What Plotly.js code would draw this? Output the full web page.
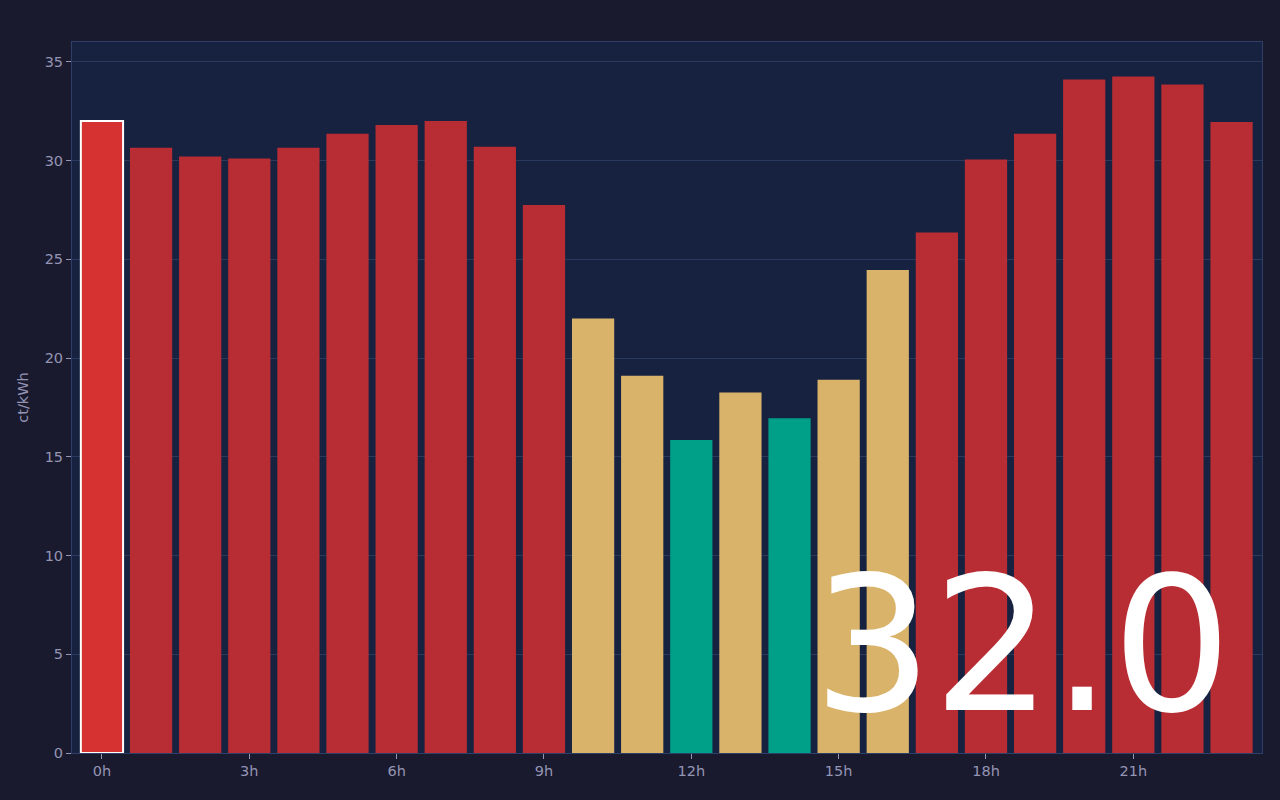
<!DOCTYPE html>
<html>
<head>
<meta charset="utf-8">
<script src="https://cdn.plot.ly/plotly-3.0.1.min.js"></script>
<style>
  html, body { margin: 0; padding: 0; background: #1a1a2e; }
  #chart { width: 1280px; height: 800px; }
</style>
</head>
<body>
<div id="chart"></div>
<script>
// hourly prices, ct/kWh
var hours = [0,1,2,3,4,5,6,7,8,9,10,11,12,13,14,15,16,17,18,19,20,21,22,23];
var prices = [32.0, 30.65, 30.2, 30.1, 30.65, 31.35, 31.8, 32.0, 30.7, 27.75, 22.0, 19.1,
              15.85, 18.25, 16.95, 18.9, 24.45, 26.35, 30.05, 31.35, 34.1, 34.25, 33.85, 31.95];
var tickHours = [0, 3, 6, 9, 12, 15, 18, 21];
var tickLabels = ["0h", "3h", "6h", "9h", "12h", "15h", "18h", "21h"];
var currentHour = 0;

function priceColor(p, i) {
  if (i === currentHour) return "#d63232";
  if (p < 18) return "#00a088";
  if (p < 25) return "#d9b36a";
  return "#b82d33";
}

var barColors = prices.map(priceColor);
var lineColors = hours.map(function(h){ return h === currentHour ? "#ffffff" : "rgba(0,0,0,0)"; });
var lineWidths = hours.map(function(h){ return h === currentHour ? 2 : 0; });

var trace = {
  x: hours,
  y: prices,
  type: 'bar',
  marker: {color: barColors, line: {color: lineColors, width: lineWidths}},
  hoverinfo: 'x+y'
};

var fontColor = "#9494b4";

var layout = {
  width: 1280,
  height: 800,
  paper_bgcolor: "#1a1a2e",
  plot_bgcolor: "#172240",
  margin: {l: 72, r: 18, t: 42, b: 47},
  bargap: 0.14,
  showlegend: false,
  font: {family: "DejaVu Sans", color: fontColor, size: 14.5},
  xaxis: {
    range: [-0.61, 23.62],
    tickvals: tickHours,
    ticktext: tickLabels,
    ticks: "outside",
    ticklen: 5,
    tickcolor: fontColor,
    showgrid: false,
    zeroline: false,
    showline: true,
    mirror: true,
    linecolor: "#2e4068",
    linewidth: 1
  },
  yaxis: {
    range: [0, 36],
    dtick: 5,
    ticks: "outside",
    ticklen: 5,
    tickcolor: fontColor,
    gridcolor: "#2a3a5e",
    zeroline: false,
    showline: true,
    mirror: true,
    linecolor: "#2e4068",
    linewidth: 1,
    title: {text: "ct/kWh", font: {size: 14.5, color: fontColor}, standoff: 12}
  },
  annotations: [{
    xref: "paper", yref: "paper",
    x: 0.799, y: -0.004,
    xanchor: "center", yanchor: "bottom",
    text: prices[currentHour].toFixed(1),
    showarrow: false,
    font: {family: "DejaVu Sans", size: 188, color: "#ffffff"}
  }]
};

Plotly.newPlot('chart', [trace], layout, {displayModeBar: false, staticPlot: true});
</script>
</body>
</html>
